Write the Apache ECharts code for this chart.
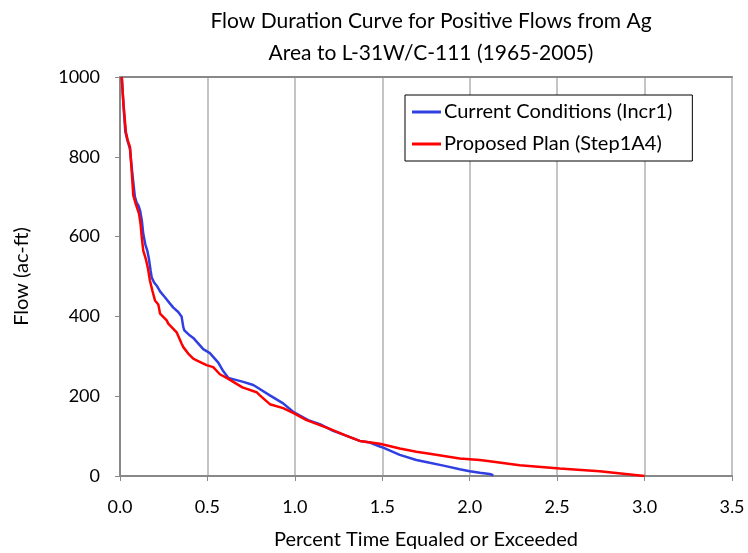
<!DOCTYPE html>
<html><head><meta charset="utf-8">
<script src="https://cdn.jsdelivr.net/npm/echarts@6/dist/echarts.min.js"></script>
<style>html,body{margin:0;padding:0;background:#fff}#c{width:748px;height:553px}</style>
</head><body><div id="c"></div>
<script>
const titleLines = ["Flow Duration Curve for Positive Flows from Ag", "Area to L-31W/C-111 (1965-2005)"];
const seriesNames = ["Current Conditions (Incr1)", "Proposed Plan (Step1A4)"];
const xTicks = [0, 0.5, 1, 1.5, 2, 2.5, 3, 3.5];
const yTicks = [0, 200, 400, 600, 800, 1000];
const currentPts = [[0.01,1000],[0.02,930],[0.03,865],[0.04,845],[0.057,820],[0.07,760],[0.085,700],[0.095,685],[0.105,678],[0.115,665],[0.125,640],[0.133,607],[0.145,580],[0.156,565],[0.165,545],[0.175,515],[0.181,498],[0.195,485],[0.21,477],[0.23,462],[0.257,448],[0.286,432],[0.305,422],[0.333,411],[0.352,400],[0.362,373],[0.368,365],[0.4,352],[0.419,346],[0.476,318],[0.514,308],[0.562,284],[0.59,263],[0.619,246],[0.705,236],[0.762,228],[0.781,223],[0.857,202],[0.933,182],[0.99,161],[1.076,140],[1.143,130],[1.219,113],[1.3,100],[1.371,88],[1.429,84],[1.486,74],[1.505,71],[1.6,53],[1.695,40],[1.771,33],[1.85,26],[1.943,17],[2.0,12],[2.057,8],[2.114,5],[2.135,2]];
const proposedPts = [[0.01,1000],[0.02,930],[0.034,861],[0.045,840],[0.057,825],[0.066,770],[0.076,703],[0.09,682],[0.109,657],[0.118,630],[0.124,600],[0.133,565],[0.147,545],[0.16,520],[0.171,490],[0.185,465],[0.2,440],[0.219,430],[0.229,407],[0.267,390],[0.276,382],[0.324,360],[0.352,332],[0.362,323],[0.39,307],[0.419,294],[0.438,290],[0.495,278],[0.533,273],[0.571,255],[0.61,246],[0.7,222],[0.781,210],[0.8,202],[0.857,180],[0.933,170],[0.99,158],[1.067,140],[1.2,118],[1.3,100],[1.371,88],[1.486,81],[1.6,69],[1.695,61],[1.771,56],[1.943,44],[2.057,40],[2.114,37],[2.286,27],[2.514,19],[2.743,12],[3.0,0]];

const FONT = 'Lato, "Open Sans", sans-serif';
const chart = echarts.init(document.getElementById('c'), null, {renderer:'canvas'});
chart.setOption({
  animation:false,
  backgroundColor:'#fff',
  title:{text:titleLines.join('\n'), left:426, top:0, textAlign:'center',
    textStyle:{fontFamily:FONT, fontSize:21, fontWeight:'normal', color:'#000', lineHeight:32}},
  legend:{data:seriesNames, orient:'vertical', left:405, top:95,
    padding:[7,20,7,7], itemGap:12, itemWidth:29, itemHeight:3,
    borderColor:'#000', borderWidth:1, backgroundColor:'#fff',
    icon:'rect',
    textStyle:{fontFamily:FONT, fontSize:20, color:'#000', padding:[0,0,0,-2]}},
  grid:{left:120, right:16, top:77, bottom:77, containLabel:false, outerBoundsMode:'none'},
  xAxis:[{type:'value', min:0, max:3.5, interval:0.5,
    name:'Percent Time Equaled or Exceeded', nameLocation:'middle', nameGap:54,
    nameTextStyle:{fontFamily:FONT, fontSize:20, color:'#000'},
    axisLine:{lineStyle:{color:'#888', width:2}},
    axisTick:{show:true, length:5, lineStyle:{color:'#888'}},
    axisLabel:{fontFamily:FONT, fontSize:18, color:'#000', margin:22, formatter:v=>v.toFixed(1)},
    splitLine:{show:true, lineStyle:{color:'#b0b0b0', width:1.5}}},
   {type:'value', position:'top', min:0, max:3.5, interval:0.5,
    axisLine:{show:true, lineStyle:{color:'#888', width:2}},
    axisTick:{show:false}, axisLabel:{show:false}, splitLine:{show:false}}],
  yAxis:{type:'value', min:0, max:1000, interval:200,
    name:'Flow (ac-ft)', nameLocation:'middle', nameGap:88, nameRotate:90,
    nameTextStyle:{fontFamily:FONT, fontSize:20, color:'#000'},
    axisLine:{show:true, lineStyle:{color:'#888', width:2}},
    axisTick:{show:true, length:5, lineStyle:{color:'#888'}},
    axisLabel:{fontFamily:FONT, fontSize:18, color:'#000', margin:20, formatter:v=>String(v)},
    splitLine:{show:false}},
  series:[
    {name:seriesNames[0], type:'line', data:currentPts, showSymbol:false, clip:true,
      lineStyle:{color:'#2f3fe0', width:2.5}, itemStyle:{color:'#2f3fe0'}, z:2},
    {name:seriesNames[1], type:'line', data:proposedPts, showSymbol:false, clip:true,
      lineStyle:{color:'#ff0000', width:2.5}, itemStyle:{color:'#ff0000'}, z:3}
  ]
});
</script></body></html>
